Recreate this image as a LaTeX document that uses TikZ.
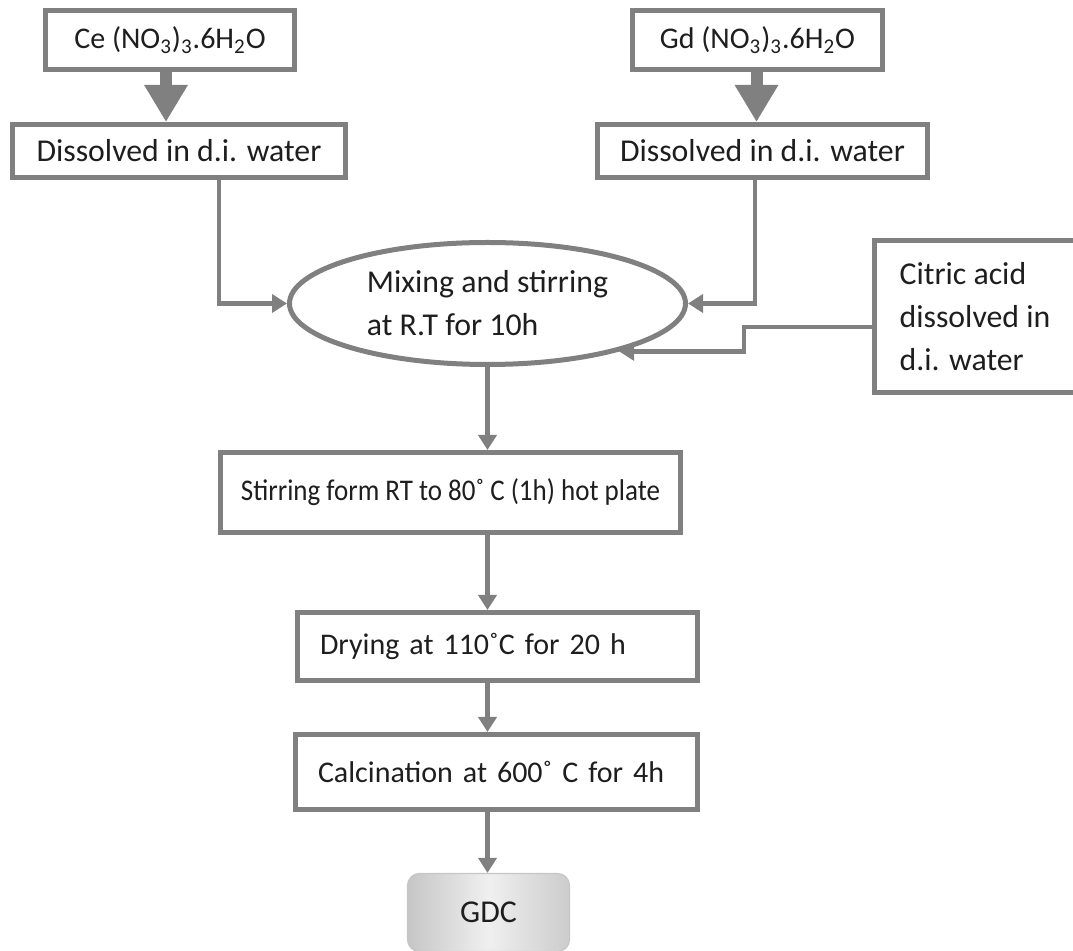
\documentclass[tikz,border=0pt]{standalone}
\usepackage{fontspec}
\setmainfont{Carlito}
\usepackage{xcolor}
\usetikzlibrary{shapes.geometric, arrows.meta}
\definecolor{linegray}{RGB}{128,128,128}
\definecolor{textgray}{RGB}{30,30,30}

\begin{document}
\begin{tikzpicture}[x=0.5pt, y=-0.5pt, font=\fontsize{15}{21}\selectfont, text=textgray,
    procbox/.style={draw=linegray, line width=2.5pt, fill=white, inner sep=0pt},
    bigfont/.style={font=\fontsize{15.9}{21.5}\selectfont},
    conn/.style={color=linegray, line width=2.4pt, -{Triangle[width=9pt, length=7.5pt]}},
    bigarrow/.style={draw=linegray, line width=6pt, -{Triangle[width=20.5pt, length=18.5pt]}}]
    \useasboundingbox (0,0) rectangle (1073,951);

    % starting salts
    \node[procbox, minimum width=124.5pt, minimum height=29.5pt] (ce) at (170,40) {Ce (NO\textsubscript{3})\textsubscript{3}.6H\textsubscript{2}O};
    \node[procbox, bigfont, minimum width=166.5pt, minimum height=26.5pt] (dl) at (179,151) {Dissolved in d.i. water};
    \node[procbox, minimum width=125pt, minimum height=29.5pt] (gd) at (757.5,40) {Gd (NO\textsubscript{3})\textsubscript{3}.6H\textsubscript{2}O};
    \node[procbox, bigfont, minimum width=165pt, minimum height=26.5pt] (dr) at (762.5,151) {Dissolved in d.i. water};

    % mixing
    \node[ellipse, procbox, bigfont, minimum width=198pt, minimum height=61pt, align=left] (mix) at (487.5,303.5) {Mixing and stirring\\at R.T for 10h};
    \node[procbox, bigfont, minimum width=100.5pt, minimum height=76pt, align=left] (cit) at (975,316.5) {Citric acid\\dissolved in\\d.i. water};

    % processing steps
    \node[procbox, minimum width=230pt, minimum height=40pt] (stir) at (450.5,492.5) {\scalebox{0.9}[1]{Stirring form RT to 80˚ C (1h) hot plate}};
    \node[procbox, inner xsep=11.25pt, text width=177.5pt, minimum height=34pt, align=left] (dry) at (497.5,646.5) {Drying at 110˚C for 20 h};
    \node[procbox, inner xsep=11.25pt, text width=178.5pt, minimum height=37.5pt, align=left] (calc) at (496.5,772) {Calcination at 600˚ C for 4h};
    \node[draw=gray!45, line width=0.6pt, rounded corners=6pt, bigfont, left color=gray!45, right color=gray!40, middle color=gray!12,
          minimum width=81pt, minimum height=39pt] (gdc) at (488.5,912.5) {GDC};

    \draw[bigarrow] ([xshift=-2pt]ce.south) -- ([xshift=-2pt]ce.south |- dl.north);
    \draw[bigarrow] ([xshift=-0.5pt]gd.south) -- ([xshift=-0.5pt]gd.south |- dr.north);

    \draw[conn] ([xshift=20pt]dl.south) |- (mix.west);
    \draw[conn] ([xshift=-3.75pt]dr.south) |- (mix.east);
    \draw[conn] ([yshift=-5.25pt]cit.west) -- ++(-64pt,0) |- (mix.-20);

    \path[conn]
        (mix.south) edge (mix.south |- stir.north)
        (mix.south |- stir.south) edge (mix.south |- dry.north)
        (mix.south |- dry.south) edge (mix.south |- calc.north)
        (mix.south |- calc.south) edge (mix.south |- gdc.north);
\end{tikzpicture}
\end{document}
